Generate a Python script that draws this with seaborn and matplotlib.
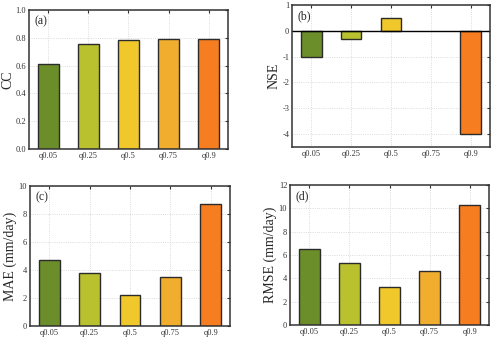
import numpy as np
import pandas as pd
import matplotlib
matplotlib.use('Agg')
import matplotlib.pyplot as plt
import seaborn as sns

# values
quantiles = ['q0.05', 'q0.25', 'q0.5', 'q0.75', 'q0.9']
cc = [0.61, 0.755, 0.787, 0.793, 0.79]
nse = [-1.0, -0.3, 0.5, np.nan, -4.0]
mae = [4.7, 3.8, 2.2, 3.5, 8.7]
rmse = [6.5, 5.3, 3.3, 4.6, 10.3]
colors = ['#6b8e2b', '#b9c12e', '#f0c82b', '#f1ad2e', '#f67e20']

sns.set_style('white')
plt.rcParams['font.family'] = ['Liberation Serif', 'DejaVu Serif']

fig = plt.figure(figsize=(5, 3.42), dpi=100)
W, H = 500, 342
# axes rectangles in pixel coords: left, top, right, bottom
boxes = [(29, 10, 228, 149), (292, 5, 490, 147), (30, 186, 230, 326), (290, 185, 489, 325)]

panels = [
    ('(a)', 'CC', cc, (0, 1.0), np.arange(0, 1.01, 0.2), '{:.1f}'),
    ('(b)', 'NSE', nse, (-4.5, 1), np.arange(-4, 1.1, 1), '{:.0f}'),
    ('(c)', 'MAE (mm/day)', mae, (0, 10), np.arange(0, 10.1, 2), '{:.0f}'),
    ('(d)', 'RMSE (mm/day)', rmse, (0, 12), np.arange(0, 12.1, 2), '{:.0f}'),
]

for (l, t, r, b), (tag, ylabel, vals, ylim, yticks, fmt) in zip(boxes, panels):
    ax = fig.add_axes([l / W, 1 - b / H, (r - l) / W, (b - t) / H])
    df = pd.DataFrame({'q': quantiles, 'v': vals})
    sns.barplot(data=df, x='q', y='v', hue='q', palette=colors, legend=False,
                width=0.52, edgecolor='#2b2b2b', linewidth=1.0, saturation=1, ax=ax)
    ax.set_ylim(*ylim)
    ax.set_yticks(yticks)
    ax.set_yticklabels([fmt.format(v) for v in yticks])
    ax.set_xlim(-0.48, 4.48)
    ax.set_xlabel('')
    ax.set_ylabel(ylabel, fontsize=10, labelpad=1)
    ax.grid(True, linestyle=':', color='#d0d0d0', linewidth=0.6)
    ax.set_axisbelow(True)
    ax.tick_params(direction='in', top=True, right=True, length=2.5, width=0.8,
                   labelsize=6, pad=2, colors='#333333')
    for s in ax.spines.values():
        s.set_linewidth(1.1)
        s.set_color('#333333')
    if ylim[0] < 0:
        ax.axhline(0, color='black', linewidth=1.0)
    ax.text(0.03, 0.965, tag, transform=ax.transAxes, ha='left', va='top', fontsize=8.5)

fig.savefig('out.png', dpi=100)
